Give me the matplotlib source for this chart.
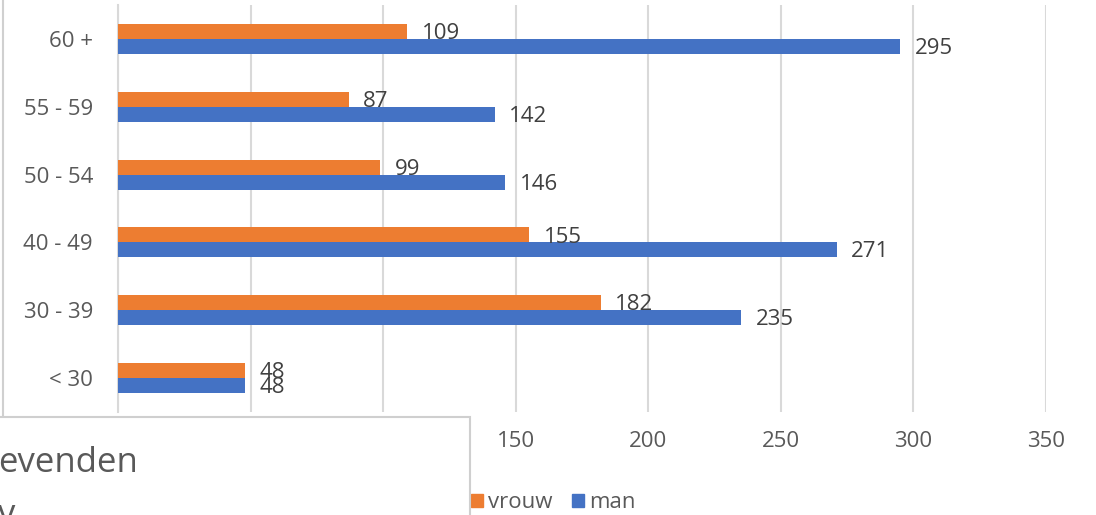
import matplotlib
matplotlib.use("Agg")
import matplotlib.pyplot as plt
from matplotlib.patches import Rectangle, Patch
from matplotlib.lines import Line2D
import numpy as np

categories = ["< 30", "30 - 39", "40 - 49", "50 - 54", "55 - 59", "60 +"]
vrouw = [48, 182, 155, 99, 87, 109]
man = [48, 235, 271, 146, 142, 295]
xticks = [0, 50, 100, 150, 200, 250, 300, 350]

ORANGE = "#ED7D31"
BLUE = "#4472C4"
GRID = "#d9d9d9"
TXT = "#595959"
LBL = "#404040"

plt.rcParams['font.family'] = ['Open Sans', 'DejaVu Sans']

W, H = 1096, 515
fig = plt.figure(figsize=(W / 100, H / 100), dpi=100)
ax = fig.add_axes([118 / W, 1 - 412 / H, (1046 - 118) / W, (412 - 5) / H])

y = np.arange(len(categories))
bh = 0.22
ax.barh(y + bh / 2, vrouw, height=bh, color=ORANGE, zorder=3)
ax.barh(y - bh / 2, man, height=bh, color=BLUE, zorder=3)

for yi, v in zip(y, vrouw):
    ax.annotate(str(v), (v, yi + bh / 2), xytext=(10.5, -1.5), textcoords="offset points",
                ha="left", va="center", fontsize=16, color=LBL, zorder=4)
for yi, v in zip(y, man):
    ax.annotate(str(v), (v, yi - bh / 2), xytext=(10.5, -1.5), textcoords="offset points",
                ha="left", va="center", fontsize=16, color=LBL, zorder=4)

ax.set_xlim(0, 350)
ax.set_ylim(-0.5, len(categories) - 0.5)
ax.set_xticks(xticks)
ax.set_xticklabels([str(t) for t in xticks])
ax.set_yticks(y)
ax.set_yticklabels(categories)
ax.tick_params(axis="both", length=0, labelsize=16, labelcolor=TXT)
ax.tick_params(axis="y", pad=18)
ax.tick_params(axis="x", pad=14)
ax.grid(axis="x", color=GRID, linewidth=1.5, zorder=0)
for s in ["top", "right", "bottom"]:
    ax.spines[s].set_visible(False)
ax.spines["left"].set_color(GRID)
ax.spines["left"].set_linewidth(1.5)

# tick labels that are hidden under the overlapping box in the screenshot
for t, lab in zip(xticks, ax.get_xticklabels()):
    if t < 150:
        lab.set_visible(False)

# legend
handles = [Patch(color=ORANGE, label="vrouw"), Patch(color=BLUE, label="man")]
fig.legend(handles=handles, loc="center left", bbox_to_anchor=(464 / W, 1 - 503 / H),
           ncol=2, frameon=False, fontsize=16, handlelength=0.55, handleheight=0.55,
           handletextpad=0.25, columnspacing=0.85, labelcolor=TXT,
           borderaxespad=0, borderpad=0.3)

# outer chart border
fig.add_artist(Line2D([3 / W, 3 / W], [1 - 415 / H, 1], color="#d0d0d0", linewidth=1.5))

# overlapping white box
fig.add_artist(Rectangle((-5 / W, -5 / H), 475 / W, (98 + 5) / H, transform=fig.transFigure,
                         facecolor="white", edgecolor="#cfcfcf", linewidth=1.5, zorder=10))
fig.text(-2 / W, 1 - 463 / H, "evenden", fontsize=25, color=TXT, va="center", ha="left", zorder=11)
fig.text(-2 / W, -9 / H, "v", fontsize=25, color=TXT, va="baseline", ha="left", zorder=11)

fig.savefig("out.png", dpi=100)
